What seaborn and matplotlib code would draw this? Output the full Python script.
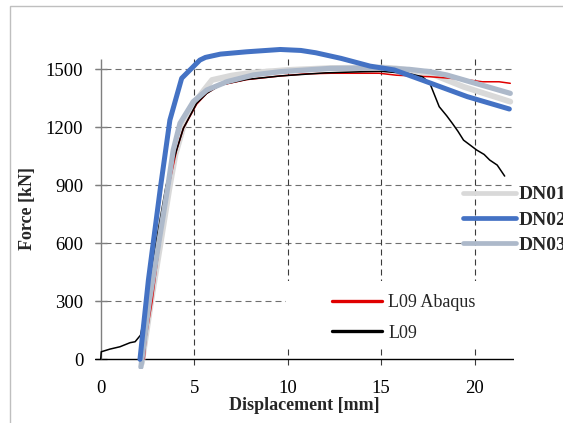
import seaborn as sns
import matplotlib.pyplot as plt
from matplotlib.patches import Rectangle

# values (displacement [mm], force [kN])
dn01_x = [2.2, 2.7, 3.2, 3.7, 4.0, 4.5, 5.0, 5.5, 5.95, 7.0, 8.0, 10.0, 12.3, 15.0, 15.8, 17.6, 19.4, 21.9]
dn01_y = [-20, 300, 600, 900, 1060, 1230, 1325, 1390, 1445, 1468, 1482, 1497, 1507, 1510, 1505, 1480, 1410, 1333]

dn02_x = [2.1, 2.55, 3.2, 3.7, 4.33, 5.3, 5.6, 6.4, 7.8, 9.6, 10.7, 11.5, 12.85, 14.4, 15.7, 17.66, 19.6, 21.85]
dn02_y = [0, 410, 893, 1238, 1454, 1548, 1562, 1579, 1591, 1603, 1598, 1586, 1557, 1517, 1497, 1428, 1359, 1295]

dn03_x = [2.15, 2.6, 3.1, 3.6, 3.88, 4.24, 4.95, 5.67, 6.74, 8.16, 9.6, 12.27, 15.0, 16.5, 17.6, 18.5, 19.75, 21.9]
dn03_y = [-40, 300, 600, 900, 1083, 1221, 1333, 1393, 1436, 1471, 1488, 1505, 1507, 1500, 1488, 1471, 1436, 1376]

abaqus_x = [2.33, 2.42, 2.75, 3.15, 3.65, 4.06, 4.42, 5.13, 5.67, 6.38, 7.8, 9.6, 11.0, 12.3, 14.9,
            15.8, 17.6, 19.4, 20.4, 21.3, 21.9]
abaqus_y = [0, 110, 300, 600, 900, 1083, 1195, 1320, 1376, 1418, 1447, 1466, 1477, 1480, 1480,
            1470, 1462, 1449, 1436, 1436, 1428]

l09_x = [0, 0.03, 0.5, 1.03, 1.57, 1.84, 2.13, 2.5, 2.95, 3.5, 4.06, 4.42, 5.13, 5.67, 6.38, 7.8, 9.6,
         12.0, 14.0, 15.0, 16.5, 17.2, 17.6, 18.1, 18.5, 18.8, 19.1, 19.4, 19.8, 20.1, 20.5, 20.8, 21.2, 21.6]
l09_y = [0, 39, 53, 65, 86, 91, 125, 300, 600, 900, 1083, 1195, 1324, 1376, 1419, 1448, 1466,
         1482, 1488, 1490, 1478, 1462, 1428, 1307, 1260, 1221, 1180, 1134, 1105, 1083, 1060, 1031, 1005, 948]

x_ticks = [0, 5, 10, 15, 20]
y_ticks = [0, 300, 600, 900, 1200, 1500]

sns.set_style('white')
plt.rcParams['font.family'] = ['Liberation Serif', 'DejaVu Serif']

fig = plt.figure(figsize=(5.63, 4.23), dpi=100)
ax = fig.add_axes([0.1689, 0.1277, 0.7441, 0.7768])
ax.set_xlim(-0.3, 22.1)
ax.set_ylim(-50, 1650)
for s in ax.spines.values():
    s.set_visible(False)

# grid
dash = (0, (5.4, 3.6))
ax.hlines(y_ticks[1:], -0.3, 22.05, colors='#6f6f6f', lw=0.8, linestyles=dash, zorder=1)
ax.vlines(x_ticks[1:], -30, 1555, colors='#3a3a3a', lw=0.8, linestyles=dash, zorder=1)
ax.hlines(y_ticks, -0.3, 0.35, colors='#7f7f7f', lw=1.0, zorder=2)
ax.axhline(0, color='black', lw=1.0, zorder=2)
ax.vlines([0], 0, 1555, colors='#7f7f7f', lw=1.0, zorder=2)

# white box behind the lower legend
ax.add_patch(Rectangle((0.456, 0.061), 0.55, 0.207, transform=ax.transAxes,
                       facecolor='white', edgecolor='none', zorder=3))

sns.lineplot(x=dn01_x, y=dn01_y, ax=ax, color='#d9d9d9', lw=4.2, sort=False,
             estimator=None, label='DN01', zorder=4)
sns.lineplot(x=abaqus_x, y=abaqus_y, ax=ax, color='#e00000', lw=1.1, sort=False,
             estimator=None, label='L09 Abaqus', zorder=5)
sns.lineplot(x=l09_x, y=l09_y, ax=ax, color='black', lw=1.1, sort=False,
             estimator=None, label='L09', zorder=6)
sns.lineplot(x=dn03_x, y=dn03_y, ax=ax, color='#adb9ca', lw=3.8, sort=False,
             estimator=None, label='DN03', zorder=7)
sns.lineplot(x=dn02_x, y=dn02_y, ax=ax, color='#4472c4', lw=3.6, sort=False,
             estimator=None, label='DN02', zorder=8)

h, l = ax.get_legend_handles_labels()
hd = dict(zip(l, h))
ax.get_legend().remove()

ax.set_xticks(x_ticks)
ax.set_yticks(y_ticks)
ax.tick_params(axis='both', length=0, labelsize=13.5, colors='black')
ax.tick_params(axis='x', pad=8)
ax.tick_params(axis='y', pad=8.5)
ax.set_xlabel('')
ax.set_ylabel('')

fig.text(304 / 563, 1 - 405.5 / 423, 'Displacement [mm]', ha='center', va='center',
         fontsize=13, fontweight='bold')
fig.text(27.5 / 563, 1 - 208 / 423, 'Force [kN]', ha='center', va='center',
         rotation=90, fontsize=13, fontweight='bold')

leg1 = fig.legend([hd['L09 Abaqus'], hd['L09']], ['L09 Abaqus', 'L09'],
                  loc='center left', bbox_to_anchor=(331.7 / 563, 1 - 318 / 423),
                  frameon=False, fontsize=13, borderpad=0, borderaxespad=0,
                  handlelength=2.8, handletextpad=0.33, labelspacing=0.75)
for ln in leg1.get_lines():
    ln.set_linewidth(2.4)

leg2 = fig.legend([hd['DN01'], hd['DN02'], hd['DN03']], ['DN01', 'DN02', 'DN03'],
                  loc='center left', bbox_to_anchor=(463 / 563, 1 - 220 / 423),
                  frameon=False, borderpad=0, borderaxespad=0,
                  prop={'size': 14, 'weight': 'bold'},
                  handlelength=2.7, handletextpad=0.15, labelspacing=0.4)
for ln in leg2.get_lines():
    ln.set_linewidth(3.4)
    ln.set_solid_capstyle('round')

# light grey chart frame
fig.patches.append(Rectangle((10 / 563, -0.05), 1.2, 1 - 6 / 423 + 0.05, transform=fig.transFigure,
                             facecolor='none', edgecolor='#bfbfbf', lw=1.0))

fig.savefig('out.png', dpi=100)
